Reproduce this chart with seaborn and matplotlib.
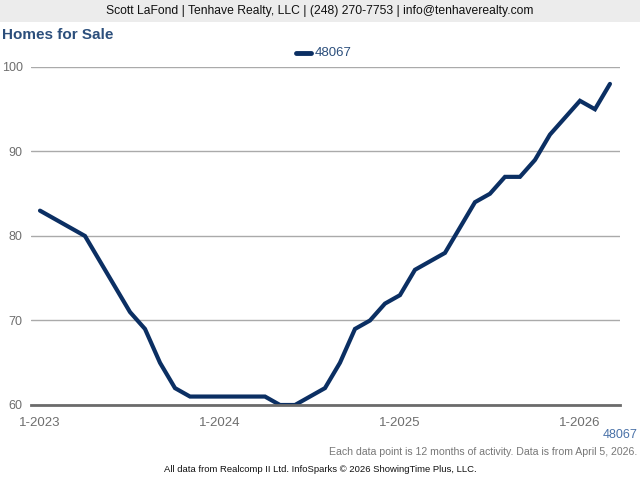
import matplotlib
matplotlib.use("Agg")
import matplotlib.pyplot as plt
import seaborn as sns
import pandas as pd

months = list(range(39))
values = [83, 82, 81, 80, 77, 74, 71, 69, 65, 62, 61, 61, 61, 61, 61, 61, 60, 60,
          61, 62, 65, 69, 70, 72, 73, 76, 77, 78, 81, 84, 85, 87, 87, 89, 92, 94,
          96, 95, 98]
tick_pos = [0, 12, 24, 36]
tick_labels = ["1-2023", "1-2024", "1-2025", "1-2026"]
yticks = [60, 70, 80, 90, 100]
series = "48067"

df = pd.DataFrame({"month": months, "value": values, "series": series})

sns.set_style("white")
plt.rcParams["font.family"] = ["Liberation Sans", "DejaVu Sans"]

fig = plt.figure(figsize=(6.4, 4.8), dpi=100)
ax = fig.add_axes([31/640, 1-405/480, (620-31)/640, (405-67)/480])

line_color = "#0b2f63"
sns.lineplot(data=df, x="month", y="value", ax=ax, color=line_color,
             linewidth=3.0, legend=False, solid_joinstyle="miter")

ax.set_xlim(-0.6, 38.67)
ax.set_ylim(60, 100)
ax.set_yticks(yticks)
ax.set_yticklabels([str(v) for v in yticks])
ax.set_xticks(tick_pos)
ax.set_xticklabels(tick_labels)
ax.set_xlabel("")
ax.set_ylabel("")
for s in ["top", "right", "left"]:
    ax.spines[s].set_visible(False)
ax.spines["bottom"].set_color("#6b6b6b")
ax.spines["bottom"].set_linewidth(2)
ax.yaxis.grid(True, color="#aaaaaa", linewidth=1)
ax.set_axisbelow(True)
ax.tick_params(axis="y", length=0, labelsize=9, labelcolor="#6e6e6e", pad=6)
ax.tick_params(axis="x", length=5, width=1.5, color="#6b6b6b", labelsize=9.5,
               labelcolor="#6e6e6e", pad=4, direction="out")
ax.set_facecolor("white")

# Banner
fig.patches.append(plt.Rectangle((0, 1-22/480), 1, 22/480, transform=fig.transFigure,
                                 facecolor="#ececec", edgecolor="none", zorder=0))
fig.text(0.5, 1-11/480, "Scott LaFond | Tenhave Realty, LLC | (248) 270-7753 | info@tenhaverealty.com",
         ha="center", va="center", fontsize=8.7, color="#111111")
fig.text(2/640, 1-35/480, "Homes for Sale", ha="left", va="center", fontsize=11,
         fontweight="bold", color="#2c4f7c")

# Legend
fig.add_artist(plt.Line2D([296/640, 311/640], [1-53/480, 1-53/480], transform=fig.transFigure,
                          color=line_color, linewidth=3.5))
fig.text(315/640, 1-53/480, series, ha="left", va="center", fontsize=9.5, color="#2c4f7c")

fig.text(638/640, 1-435/480, series, ha="right", va="center", fontsize=9, color="#4a72a8")
fig.text(637/640, 1-452/480, "Each data point is 12 months of activity. Data is from April 5, 2026.",
         ha="right", va="center", fontsize=7.6, color="#777777")
fig.text(320/640, 1-469/480, "All data from Realcomp II Ltd. InfoSparks \u00a9 2026 ShowingTime Plus, LLC.",
         ha="center", va="center", fontsize=6.8, color="#111111")

fig.savefig("out.png", dpi=100, facecolor="white")
